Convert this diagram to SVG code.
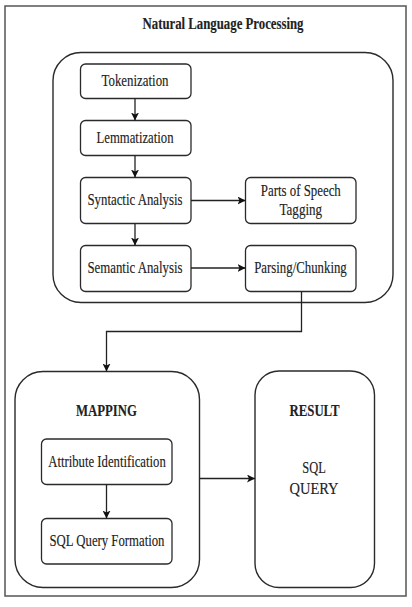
<svg xmlns="http://www.w3.org/2000/svg" width="412" height="607" viewBox="0 0 412 607">
<style>
.frame{fill:none;stroke:#555;stroke-width:1.5}
.box{fill:#fff;stroke:#2a2a2a;stroke-width:1.3}
.grp{fill:#fff;stroke:#2a2a2a;stroke-width:1.4}
.t{font-family:"Liberation Serif","Times New Roman",serif;font-size:17.5px;fill:#222;stroke:#222;stroke-width:0.15;text-anchor:middle}
.b{font-weight:bold}
.c{fill:none;stroke:#222;stroke-width:1.3}
</style>
<defs>
<marker id="ah" viewBox="0 0 10 10" refX="10" refY="5" markerWidth="8" markerHeight="8" markerUnits="userSpaceOnUse" orient="auto">
<path d="M0,0 L10,5 L0,10 L2.5,5 z" fill="#111"/>
</marker>
</defs>
<rect width="412" height="607" fill="#fff"/>
<rect class="frame" x="5" y="6" width="401" height="590"/>
<text class="t b" x="223" y="28.5" textLength="161" lengthAdjust="spacingAndGlyphs">Natural Language Processing</text>

<g id="nlp">
<rect class="grp" x="53" y="52.5" width="340" height="250" rx="28"/>
</g>
<g id="tokenization">
<rect class="box" x="80.5" y="64" width="110.5" height="34.5" rx="5"/>
<text class="t" x="135" y="86" textLength="67" lengthAdjust="spacingAndGlyphs">Tokenization</text>
</g>
<g id="lemmatization">
<rect class="box" x="80.5" y="120.5" width="110.5" height="35" rx="5"/>
<text class="t" x="135" y="142.5" textLength="77" lengthAdjust="spacingAndGlyphs">Lemmatization</text>
</g>
<g id="syntactic">
<rect class="box" x="80.5" y="177.5" width="110.5" height="46" rx="5"/>
<text class="t" x="135" y="205" textLength="95" lengthAdjust="spacingAndGlyphs">Syntactic Analysis</text>
</g>
<g id="pos">
<rect class="box" x="245.5" y="177.5" width="110.5" height="46" rx="5"/>
<text class="t" x="300.8" y="196" textLength="80" lengthAdjust="spacingAndGlyphs">Parts of Speech</text>
<text class="t" x="300.8" y="215" textLength="42.5" lengthAdjust="spacingAndGlyphs">Tagging</text>
</g>
<g id="semantic">
<rect class="box" x="80.5" y="245.5" width="110.5" height="46" rx="5"/>
<text class="t" x="135" y="273" textLength="95" lengthAdjust="spacingAndGlyphs">Semantic Analysis</text>
</g>
<g id="parsing">
<rect class="box" x="245.5" y="245.5" width="110.5" height="46" rx="5"/>
<text class="t" x="300.5" y="273" textLength="92.5" lengthAdjust="spacingAndGlyphs">Parsing/Chunking</text>
</g>

<g id="mapping">
<rect class="grp" x="15" y="371.5" width="184.5" height="216" rx="28"/>
<text class="t b" x="106.5" y="415.5" textLength="61" lengthAdjust="spacingAndGlyphs">MAPPING</text>
</g>
<g id="attribute">
<rect class="box" x="41.5" y="439" width="130.5" height="45.5" rx="5"/>
<text class="t" x="107" y="466.5" textLength="117.5" lengthAdjust="spacingAndGlyphs">Attribute Identification</text>
</g>
<g id="sqlformation">
<rect class="box" x="41.5" y="518.5" width="130.5" height="45.5" rx="5"/>
<text class="t" x="107" y="545.5" textLength="115" lengthAdjust="spacingAndGlyphs">SQL Query Formation</text>
</g>
<g id="result">
<rect class="grp" x="255" y="371" width="119.5" height="216.5" rx="24"/>
<text class="t b" x="314.5" y="415.5" textLength="50" lengthAdjust="spacingAndGlyphs">RESULT</text>
<text class="t" x="314" y="473" textLength="23.5" lengthAdjust="spacingAndGlyphs">SQL</text>
<text class="t" x="314" y="494" textLength="49" lengthAdjust="spacingAndGlyphs">QUERY</text>
</g>

<g id="connectors">
<path class="c" d="M135,98.5 V120.5" marker-end="url(#ah)"/>
<path class="c" d="M135,155.5 V177.5" marker-end="url(#ah)"/>
<path class="c" d="M191,200.5 H245.5" marker-end="url(#ah)"/>
<path class="c" d="M135,223.5 V245.5" marker-end="url(#ah)"/>
<path class="c" d="M191,268 H245.5" marker-end="url(#ah)"/>
<path class="c" d="M301.5,291.5 V331.5 H106.5 V371.5" marker-end="url(#ah)"/>
<path class="c" d="M106.5,484.5 V518.5" marker-end="url(#ah)"/>
<path class="c" d="M199.5,478.5 H255" marker-end="url(#ah)"/>
</g>
</svg>
